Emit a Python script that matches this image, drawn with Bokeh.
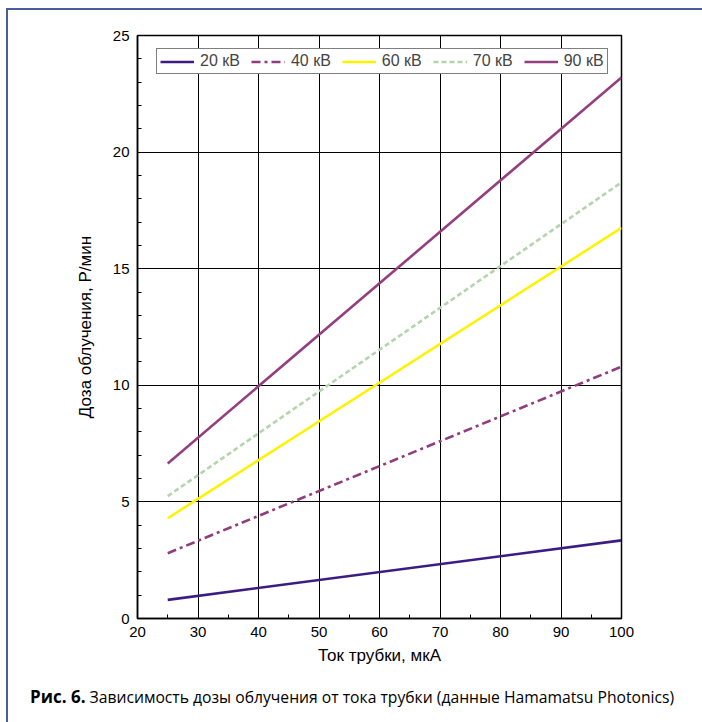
from bokeh.plotting import figure
from bokeh.models import (Legend, LegendItem, SingleIntervalTicker, Range1d, Div, Column)
from bokeh.embed import file_html
from bokeh.resources import INLINE

# Data
current = [25, 100]
dose_20kv = [0.8, 3.35]
dose_40kv = [2.8, 10.8]
dose_60kv = [4.3, 16.75]
dose_70kv = [5.25, 18.7]
dose_90kv = [6.65, 23.2]

series_labels = ["20 кВ", "40 кВ", "60 кВ", "70 кВ", "90 кВ"]
series_values = [dose_20kv, dose_40kv, dose_60kv, dose_70kv, dose_90kv]
colors = ["#3b1c82", "#903d7e", "#fff200", "#b3d5ab", "#933f7f"]
dashes = ["solid", "9 4 3 4", "solid", "5 3", "solid"]

x_label = "Ток трубки, мкА"
y_label = "Доза облучения, Р/мин"
caption_bold = "Рис. 6."
caption_text = "Зависимость дозы облучения от тока трубки (данные Hamamatsu Photonics)"

FONT = "Liberation Sans"

p = figure(frame_width=484, frame_height=583, output_backend="svg", toolbar_location=None,
           x_range=Range1d(20, 100), y_range=Range1d(0, 25),
           min_border_left=129, min_border_right=73, min_border_top=25, min_border_bottom=60)
p.background_fill_color = "white"
p.border_fill_color = "white"
p.outline_line_color = "black"
p.outline_line_width = 1.5

p.xaxis.ticker = SingleIntervalTicker(interval=10, num_minor_ticks=2)
p.yaxis.ticker = SingleIntervalTicker(interval=5, num_minor_ticks=5)
for ax in (p.xaxis, p.yaxis):
    ax.major_tick_in = 0
    ax.major_tick_out = 0
    ax.minor_tick_in = 4
    ax.minor_tick_out = 0
    ax.minor_tick_line_color = "black"
    ax.axis_line_color = "black"
    ax.axis_line_width = 1.5
    ax.major_label_text_font = FONT
    ax.major_label_text_font_size = "15px"
    ax.major_label_text_color = "black"
    ax.axis_label_text_font = FONT
    ax.axis_label_text_font_size = "17px"
    ax.axis_label_text_font_style = "normal"
    ax.axis_label_text_color = "black"
    ax.major_label_standoff = 8
p.xaxis.axis_label = x_label
p.yaxis.axis_label = y_label
p.xaxis.axis_label_standoff = 6
p.yaxis.axis_label_standoff = 15

p.xgrid.ticker = p.xaxis.ticker
p.ygrid.ticker = p.yaxis.ticker
p.grid.grid_line_color = "black"
p.grid.grid_line_width = 1
p.grid.grid_line_alpha = 1

items = []
for lab, vals, c, d in zip(series_labels, series_values, colors, dashes):
    r = p.line(current, vals, line_color=c, line_width=2.6, line_dash=d)
    items.append(LegendItem(label=lab, renderers=[r]))

legend = Legend(items=items, orientation="horizontal", location=(19, 544),
                label_text_font=FONT, label_text_font_size="16px",
                glyph_width=34, glyph_height=17, label_height=17, label_standoff=6,
                spacing=11, padding=3, margin=0,
                border_line_color="black", border_line_width=1.2,
                background_fill_color="white", background_fill_alpha=1)
p.add_layout(legend, "center")

caption = Div(text=f"<b style='font-size:17px'>{caption_bold}</b> {caption_text}",
              width=686, height=36,
              styles={"font-family": "Open Sans", "font-size": "15.7px", "color": "black",
                      "padding-left": "17px", "padding-top": "2px", "box-sizing": "border-box",
                      "white-space": "nowrap"})

layout = Column(children=[p, caption], spacing=0, margin=(8, 0, 0, 6),
                styles={"border-left": "2px solid #4a5c9e", "border-top": "2px solid #4a5c9e",
                        "background-color": "white"})

open("out.html", "w").write(file_html(layout, INLINE))
